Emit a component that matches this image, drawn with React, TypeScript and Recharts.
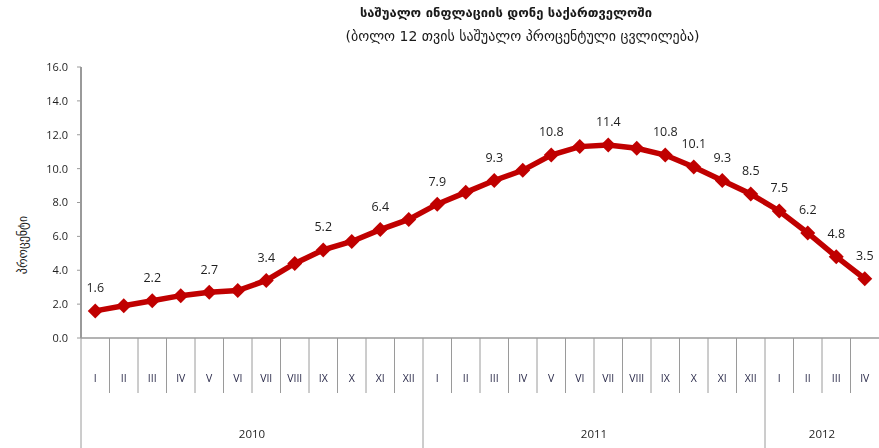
import { LineChart, Line, XAxis, YAxis, LabelList } from 'recharts';

const months = [
  'I', 'II', 'III', 'IV', 'V', 'VI', 'VII', 'VIII', 'IX', 'X', 'XI', 'XII',
  'I', 'II', 'III', 'IV', 'V', 'VI', 'VII', 'VIII', 'IX', 'X', 'XI', 'XII',
  'I', 'II', 'III', 'IV',
];
const years = ['2010', '2011', '2012'];
const monthsPerYear = [12, 12, 4];
const inflation = [
  1.6, 1.9, 2.2, 2.5, 2.7, 2.8, 3.4, 4.4, 5.2, 5.7, 6.4, 7.0,
  7.9, 8.6, 9.3, 9.9, 10.8, 11.3, 11.4, 11.2, 10.8, 10.1, 9.3, 8.5,
  7.5, 6.2, 4.8, 3.5,
];
// points that carry a value label
const labelled = [0, 2, 4, 6, 8, 10, 12, 14, 16, 18, 20, 21, 22, 23, 24, 25, 26, 27];
const yTicks = [0, 2, 4, 6, 8, 10, 12, 14, 16];

const W = 879;
const H = 448;
const LEFT = 81;
const BAND = (W - LEFT) / months.length;
const RED = '#c00000';
const GRID = '#9a9a9a';
const FONT = "'Open Sans', 'Noto Sans', sans-serif";
const GEO = "'DejaVu Sans', sans-serif";

const data = months.map((m, i) => ({ key: `${i}`, month: m, value: inflation[i] }));

// first month position of each year
const yearStart: number[] = [];
let acc = 0;
monthsPerYear.forEach((n) => {
  yearStart.push(acc);
  acc += n;
});

function MonthTick(props: any) {
  const { x, y, payload } = props;
  const i = payload.index as number;
  const left = x - BAND / 2;
  const yi = yearStart.indexOf(i);
  return (
    <g>
      {yi >= 0 ? (
        <>
          <line x1={left} x2={left} y1={y} y2={y + 110} stroke={GRID} strokeWidth={1} />
          <text
            x={left + (monthsPerYear[yi] * BAND) / 2}
            y={y + 100}
            textAnchor="middle"
            fontSize={11.5}
            fill="#1f1f1f"
            fontFamily={FONT}
          >
            {years[yi]}
          </text>
        </>
      ) : (
        <line x1={left} x2={left} y1={y} y2={y + 55} stroke={GRID} strokeWidth={1} />
      )}
      <text
        x={x}
        y={y + 44}
        textAnchor="middle"
        fontSize={10.5}
        fill="#2a2a4a"
        fontFamily={FONT}
      >
        {months[i]}
      </text>
    </g>
  );
}

function Diamond(props: any) {
  const { cx, cy } = props;
  if (cx == null || cy == null) return null;
  const r = 7.5;
  return (
    <polygon
      points={`${cx},${cy - r} ${cx + r},${cy} ${cx},${cy + r} ${cx - r},${cy}`}
      fill={RED}
    />
  );
}

function ValueLabel(props: any) {
  const { x, y, value, index } = props;
  if (!labelled.includes(index)) return null;
  return (
    <text
      x={x}
      y={y - 22}
      textAnchor="middle"
      dominantBaseline="middle"
      fontSize={12.5}
      fill="#1f1f1f"
      fontFamily={FONT}
    >
      {Number(value).toFixed(1)}
    </text>
  );
}

export default function App() {
  return (
    <div style={{ position: 'fixed', left: 0, top: 0, width: W, height: H, background: '#fff' }}>
      <div
        style={{
          position: 'absolute',
          left: 0,
          width: 1012,
          top: 5,
          textAlign: 'center',
          fontFamily: GEO,
          fontWeight: 'bold',
          fontSize: 13,
          color: '#1a1a1a',
        }}
      >
        საშუალო ინფლაციის დონე საქართველოში
      </div>
      <div
        style={{
          position: 'absolute',
          left: 0,
          width: 1045,
          top: 28,
          textAlign: 'center',
          fontFamily: GEO,
          fontSize: 14,
          color: '#1a1a1a',
        }}
      >
        (ბოლო 12 თვის საშუალო პროცენტული ცვლილება)
      </div>
      <div
        style={{
          position: 'absolute',
          left: 23,
          top: 245,
          transform: 'translate(-50%, -50%) rotate(-90deg)',
          fontFamily: GEO,
          fontSize: 12,
          color: '#1a1a1a',
          whiteSpace: 'nowrap',
        }}
      >
        პროცენტი
      </div>
      <LineChart width={W} height={H} data={data} margin={{ top: 67, right: 0, bottom: 0, left: 0 }}>
        <XAxis
          dataKey="key"
          scale="band"
          height={110}
          interval={0}
          tickLine={false}
          tickSize={0}
          tickMargin={0}
          axisLine={{ stroke: GRID, strokeWidth: 1.5 }}
          tick={<MonthTick />}
        />
        <YAxis
          width={LEFT}
          domain={[0, 16]}
          ticks={yTicks}
          tickFormatter={(v: number) => v.toFixed(1)}
          tickSize={4}
          tickMargin={9}
          axisLine={{ stroke: GRID, strokeWidth: 2 }}
          tickLine={{ stroke: GRID }}
          tick={{ fontSize: 11, fill: '#1f1f1f', fontFamily: FONT }}
        />
        <Line
          dataKey="value"
          stroke={RED}
          strokeWidth={5.5}
          dot={<Diamond />}
          activeDot={false}
          isAnimationActive={false}
        >
          <LabelList dataKey="value" content={<ValueLabel />} />
        </Line>
      </LineChart>
    </div>
  );
}
